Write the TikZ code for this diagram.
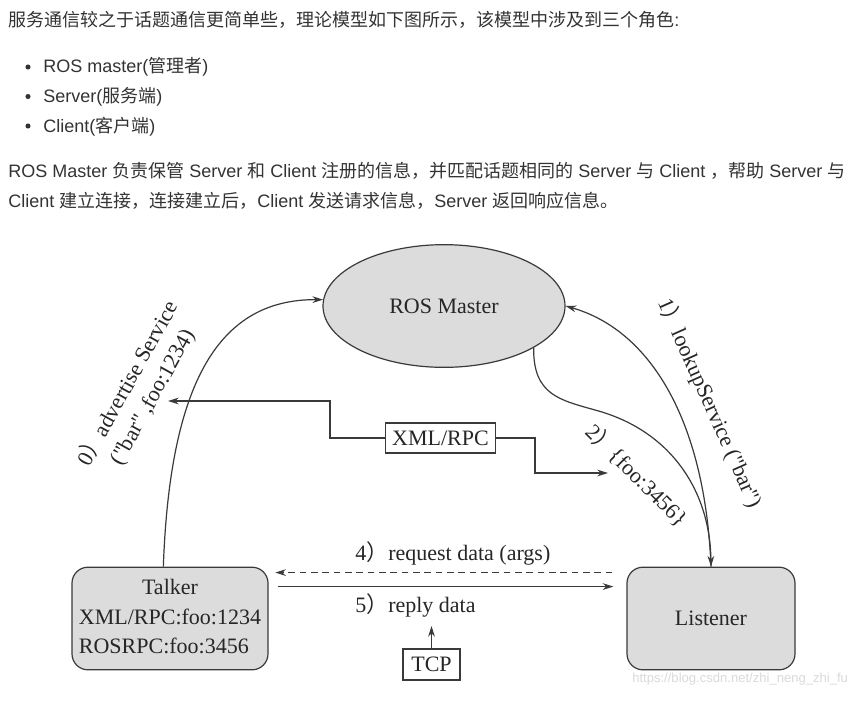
\documentclass[tikz,border=0pt]{standalone}
\usepackage{fontspec}
\setmainfont{Liberation Sans}
\newfontfamily\cjk{Noto Sans CJK SC}
\newfontfamily\diagfont{Liberation Serif}
\usetikzlibrary{shapes.geometric,arrows.meta}
\definecolor{textgray}{HTML}{333333}
\definecolor{boxfill}{HTML}{DCDCDC}
\definecolor{linegray}{HTML}{3A3A3A}
\definecolor{markgray}{HTML}{DADADA}
\newcommand{\fwparen}{{\cjk ）}}
\tikzset{
	line/.style={draw=linegray, line width=0.9pt},
	arr/.style={line, -{Stealth[length=8pt,width=5pt]}},
	para/.style={anchor=base west, inner sep=0pt, text=textgray, font=\fontsize{13.5pt}{16pt}\selectfont},
	lbl/.style={inner sep=0pt, text=black!85, font=\diagfont\fontsize{16.5pt}{21pt}\selectfont},
	roundbox/.style={lbl, draw=linegray, line width=0.9pt, fill=boxfill, rounded corners=12pt},
	tagbox/.style={lbl, draw=linegray, line width=0.9pt, fill=white}
}
\begin{document}
\begin{tikzpicture}[x=0.75pt,y=-0.75pt]
	\useasboundingbox[fill=white] (0,0) rectangle (864,704);
	\node[para] (intro) at (8,26) {{\cjk 服务通信较之于话题通信更简单些，理论模型如下图所示，该模型中涉及到三个角色}:};
	\fill[textgray] (28,67) circle (1.9pt);
	\fill[textgray] (28,96.5) circle (1.9pt);
	\fill[textgray] (28,126) circle (1.9pt);
	\node[para] (item1) at (43,72) {ROS master({\cjk 管理者})};
	\node[para] (item2) at (43,102) {Server({\cjk 服务端})};
	\node[para] (item3) at (43,132) {Client({\cjk 客户端})};
	\node[para] (desc1) at (8,177) {ROS Master {\cjk 负责保管} Server {\cjk 和} Client {\cjk 注册的信息，并匹配话题相同的} Server {\cjk 与} Client {\cjk ，帮助} Server {\cjk 与}};
	\node[para] (desc2) at (8,207) {Client {\cjk 建立连接，连接建立后，}Client {\cjk 发送请求信息，}Server {\cjk 返回响应信息。}};

	\node[ellipse, lbl, draw=linegray, line width=0.9pt, fill=boxfill, minimum width=181.5pt, minimum height=92pt] (master) at (444,306) {ROS Master};
	\node[roundbox, minimum width=147pt, minimum height=77pt] (talker) at (170,618.5) {\renewcommand{\arraystretch}{1.05}\begin{tabular}{@{}l@{}}\multicolumn{1}{@{}c@{}}{Talker}\\XML/RPC:foo:1234\\ROSRPC:foo:3456\end{tabular}};
	\node[roundbox, minimum width=126pt, minimum height=77pt] (listener) at (711,618.5) {Listener};
	\node[tagbox, minimum width=83pt, minimum height=22.5pt] (xmlrpc) at (440.5,438) {XML/RPC};
	\node[tagbox, minimum width=42.75pt, minimum height=23.25pt] (tcp) at (431.5,664.5) {TCP};

	\node[lbl, rotate=61, align=center] (adv) at (140,390) {0\fwparen advertise Service\\("bar" ,foo:1234)};
	\node[lbl, rotate=-66] (lookup) at (710,403) {1\fwparen lookupService ("bar")};
	\node[lbl, rotate=-45] (fooreply) at (637,475) {2\fwparen \{foo:3456\}};
	\node[lbl, anchor=base west] (request) at (355,560) {4\fwparen request data (args)};
	\node[lbl, anchor=base west] (reply) at (355,612) {5\fwparen reply data};
	\node[anchor=base west, inner sep=0pt, text=markgray, font=\fontsize{9.8pt}{12pt}\selectfont] (mark) at (632,682) {https://blog.csdn.net/zhi\_neng\_zhi\_fu};

	\coordinate (advtip) at (168,401);
	\coordinate (footip) at (608,473);
	\coordinate (tcptip) at (431.5,626);

	\draw[arr] ([xshift=-5pt]talker.north) .. controls (170,380) and (220,299) .. (master.177);
	\draw[arr] (listener.north) .. controls (705,420) and (650,330) .. (master.east);
	\draw[arr] (master.-25) .. controls (533,395) and (560,400) .. (595,410) .. controls (670,430) and (710,490) .. (listener.north);
	\draw[arr] (xmlrpc.west) -| (330,401) -- (advtip);
	\draw[arr] (xmlrpc.east) -| (535,473) -- (footip);
	\draw[arr, dash pattern=on 5pt off 3.5pt, shorten <=10.5pt, shorten >=5pt] ([yshift=-4.5pt]listener.north west) -- ([yshift=-4.5pt]talker.north east);
	\draw[arr, shorten <=6.75pt, shorten >=9.75pt] ([yshift=-15pt]talker.north east) -- ([yshift=-15pt]listener.north west);
	\draw[arr] (tcp) -- (tcptip);
\end{tikzpicture}
\end{document}
